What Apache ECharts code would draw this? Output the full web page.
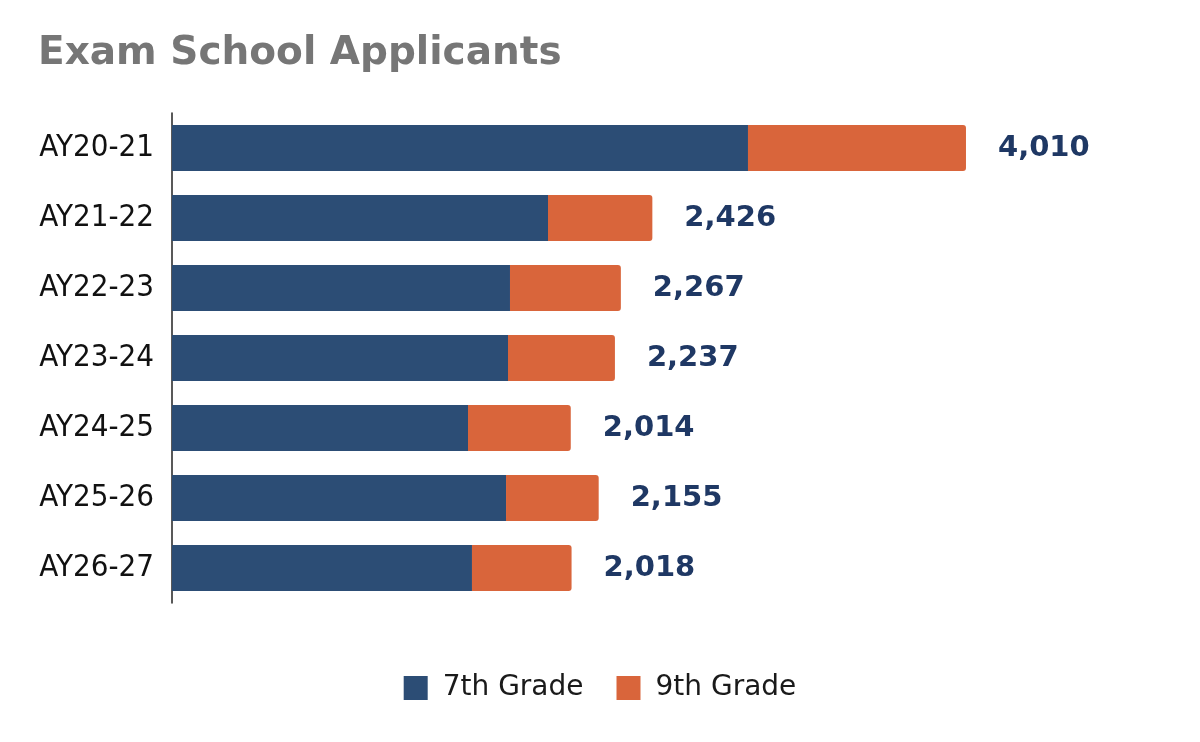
<!DOCTYPE html>
<html>
<head>
    <meta charset="utf-8">
    <script src="https://cdn.jsdelivr.net/npm/echarts@6/dist/echarts.min.js"></script>
    <style>
        html, body { margin: 0; padding: 0; background: #fff; }
    </style>
</head>
<body>
<div id="main" style="width: 1200px;height:742px;"></div>

<script>
    // chart data
    var years = ['AY20-21', 'AY21-22', 'AY22-23', 'AY23-24', 'AY24-25', 'AY25-26', 'AY26-27'];
    var grade7 = [2909, 1899, 1707, 1697, 1495, 1687, 1515];
    var grade9 = [1101, 527, 560, 540, 519, 468, 503];
    var totals = [4010, 2426, 2267, 2237, 2014, 2155, 2018];

    var myChart = echarts.init(document.getElementById('main'));

    var option = {
        animation: false,
        title: {
            text: 'Exam School Applicants',
            left: 33,
            top: 29,
            textStyle: {
                color: '#767676',
                fontFamily: 'DejaVu Sans',
                fontWeight: 'bold',
                fontSize: 39
            }
        },
        legend: {
            bottom: 35,
            left: 'center',
            itemWidth: 24,
            itemHeight: 24,
            itemGap: 33,
            icon: 'rect',
            textStyle: {
                color: '#1a1a1a',
                fontFamily: 'DejaVu Sans',
                fontSize: 28,
                padding: [0, 0, 0, 10]
            },
            data: ['7th Grade', '9th Grade']
        },
        grid: {
            left: 172,
            right: 38,
            top: 113,
            bottom: 139
        },
        xAxis: {
            type: 'value',
            min: 0,
            max: 5000,
            show: false
        },
        yAxis: {
            type: 'category',
            inverse: true,
            data: years,
            axisLine: {show: true, lineStyle: {color: '#222', width: 1.5}},
            axisTick: {show: false},
            axisLabel: {
                margin: 18,
                color: '#111',
                fontFamily: 'DejaVu Sans Condensed',
                fontSize: 31
            }
        },
        series: [
            {
                name: '7th Grade',
                type: 'bar',
                stack: 'total',
                barWidth: 46,
                itemStyle: {color: '#2c4d75'},
                data: grade7
            },
            {
                name: '9th Grade',
                type: 'bar',
                stack: 'total',
                barWidth: 46,
                itemStyle: {color: '#d9653b', borderRadius: [0, 3, 3, 0]},
                label: {
                    show: true,
                    position: 'right',
                    distance: 32,
                    color: '#1f3864',
                    fontFamily: 'DejaVu Sans',
                    fontWeight: 'bold',
                    fontSize: 29,
                    formatter: function (p) {
                        return totals[p.dataIndex].toLocaleString('en-US');
                    }
                },
                data: grade9
            }
        ]
    };
    myChart.setOption(option);
</script>
</body>
</html>
